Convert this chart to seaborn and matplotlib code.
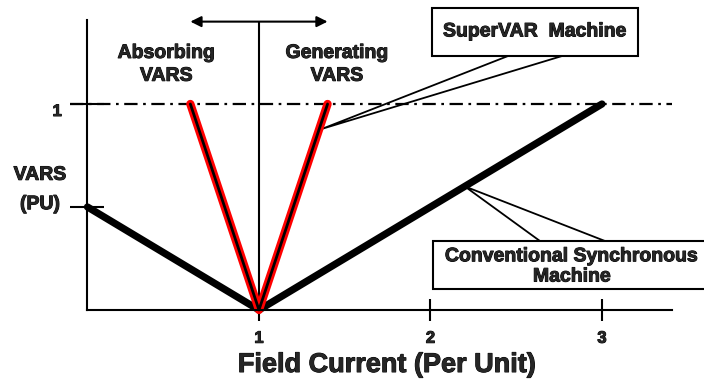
import matplotlib
matplotlib.use('Agg')
import matplotlib.pyplot as plt
import matplotlib.patheffects as pe
from matplotlib.patches import Rectangle, Polygon
import seaborn as sns

# ── DATA ────────────────────────────────────────────────────────────────────
conv_x  = [0, 1, 3]          # conventional synchronous machine V-curve
conv_y  = [0.5, 0, 1]
svar_x  = [0.6, 1, 1.4]      # SuperVAR machine V-curve
svar_y  = [1, 0, 1]
x_ticks = [1, 2, 3]
x_tick_labels = ["1", "2", "3"]
y_ticks = [0.5, 1]
y_tick_labels = ["", "1"]
rated_vars = 1

sns.set_style("white")
plt.rcParams['font.family'] = ['Liberation Sans', 'DejaVu Sans']
plt.rcParams['font.weight'] = 'bold'

# slightly heavier glyphs, like the scanned original
HEAVY = [pe.withStroke(linewidth=0.7, foreground='black')]

fig = plt.figure(figsize=(7.04, 3.81), dpi=100)
ax = fig.add_axes([0, 0, 1, 1])
ax.set_xlim(-0.510, 3.595)
ax.set_ylim(-0.345, 1.505)

# ── AXES ────────────────────────────────────────────────────────────────────
for s in ['top', 'right']:
    ax.spines[s].set_visible(False)
ax.spines['left'].set_position(('data', 0))
ax.spines['bottom'].set_position(('data', 0))
ax.spines['left'].set_bounds(0, 1.41)
ax.spines['bottom'].set_bounds(0, 3.41)
for s in ['left', 'bottom']:
    ax.spines[s].set_linewidth(1.5)
    ax.spines[s].set_color('black')

ax.set_xticks(x_ticks)
ax.set_xticklabels(x_tick_labels, fontsize=12, fontweight='bold')
ax.set_yticks(y_ticks)
ax.set_yticklabels(y_tick_labels, fontsize=12, fontweight='bold')
ax.tick_params(axis='x', bottom=True, direction='inout', length=16,
               width=1.5, pad=7, color='black')
ax.tick_params(axis='y', left=True, direction='inout', length=25,
               width=1.5, pad=6, color='black')
for lbl in ax.get_yticklabels():
    lbl.set_va('top')

ax.set_xlabel("Field Current (Per Unit)", fontsize=19.5, fontweight='bold')
ax.xaxis.set_label_coords(387 / 704, 1 - 365 / 381)
ax.xaxis.label.set_va('center')
ax.set_ylabel("VARS\n(PU)", fontsize=14, fontweight='bold', rotation=0,
              ha='center', va='center', linespacing=1.95)
ax.yaxis.set_label_coords(40 / 704, 1 - 190 / 381)

# ── REFERENCE LINES ─────────────────────────────────────────────────────────
ax.hlines(rated_vars, -0.1, 3.41, colors='black', lw=1.6,
          linestyles=(0, (6, 2.5, 1.2, 2.5)))
ax.vlines(1, 0, 1.4, colors='black', lw=1.5)
ax.annotate('', xy=(0.6, 1.4), xytext=(1.4, 1.4),
            arrowprops=dict(arrowstyle='<|-|>', lw=1.5, color='black',
                            mutation_scale=16, shrinkA=0, shrinkB=0))

# ── CURVES ──────────────────────────────────────────────────────────────────
sns.lineplot(x=conv_x, y=conv_y, sort=False, estimator=None, ax=ax,
             color='black', lw=5.2)
sns.lineplot(x=svar_x, y=svar_y, sort=False, estimator=None, ax=ax,
             color='#ff0000', lw=6)
sns.lineplot(x=svar_x, y=svar_y, sort=False, estimator=None, ax=ax,
             color='black', lw=2)

# ── REGION LABELS ───────────────────────────────────────────────────────────
ax.text(0.46, 1.19, "Absorbing\nVARS", ha='center', va='center',
        fontsize=14, fontweight='bold', linespacing=1.45)
ax.text(1.455, 1.19, "Generating\nVARS", ha='center', va='center',
        fontsize=14, fontweight='bold', linespacing=1.45)

# ── CALLOUTS ────────────────────────────────────────────────────────────────
ax.add_patch(Polygon([(1.37, 0.88), (2.452, 1.233), (2.767, 1.233)],
                     closed=True, fill=False, ec='black', lw=1.3))
ax.add_patch(Rectangle((2.009, 1.233), 1.201, 0.233, fc='white',
                       ec='black', lw=1.5))
ax.text(2.609, 1.35, "SuperVAR  Machine", ha='center', va='center',
        fontsize=14, fontweight='bold')

ax.add_patch(Polygon([(2.2, 0.6), (2.638, 0.335), (3.017, 0.335)],
                     closed=True, fill=False, ec='black', lw=1.3))
ax.add_patch(Rectangle((2.015, 0.102), 1.62, 0.233, fc='white',
                       ec='black', lw=1.5))
ax.text(2.825, 0.209, "Conventional Synchronous\nMachine", ha='center',
        va='center', fontsize=14, fontweight='bold', linespacing=1.25)

for t in ax.texts + ax.get_xticklabels() + ax.get_yticklabels() + \
        [ax.xaxis.label, ax.yaxis.label]:
    t.set_path_effects(HEAVY)

fig.savefig("out.png", dpi=100, facecolor='white')
plt.close(fig)
